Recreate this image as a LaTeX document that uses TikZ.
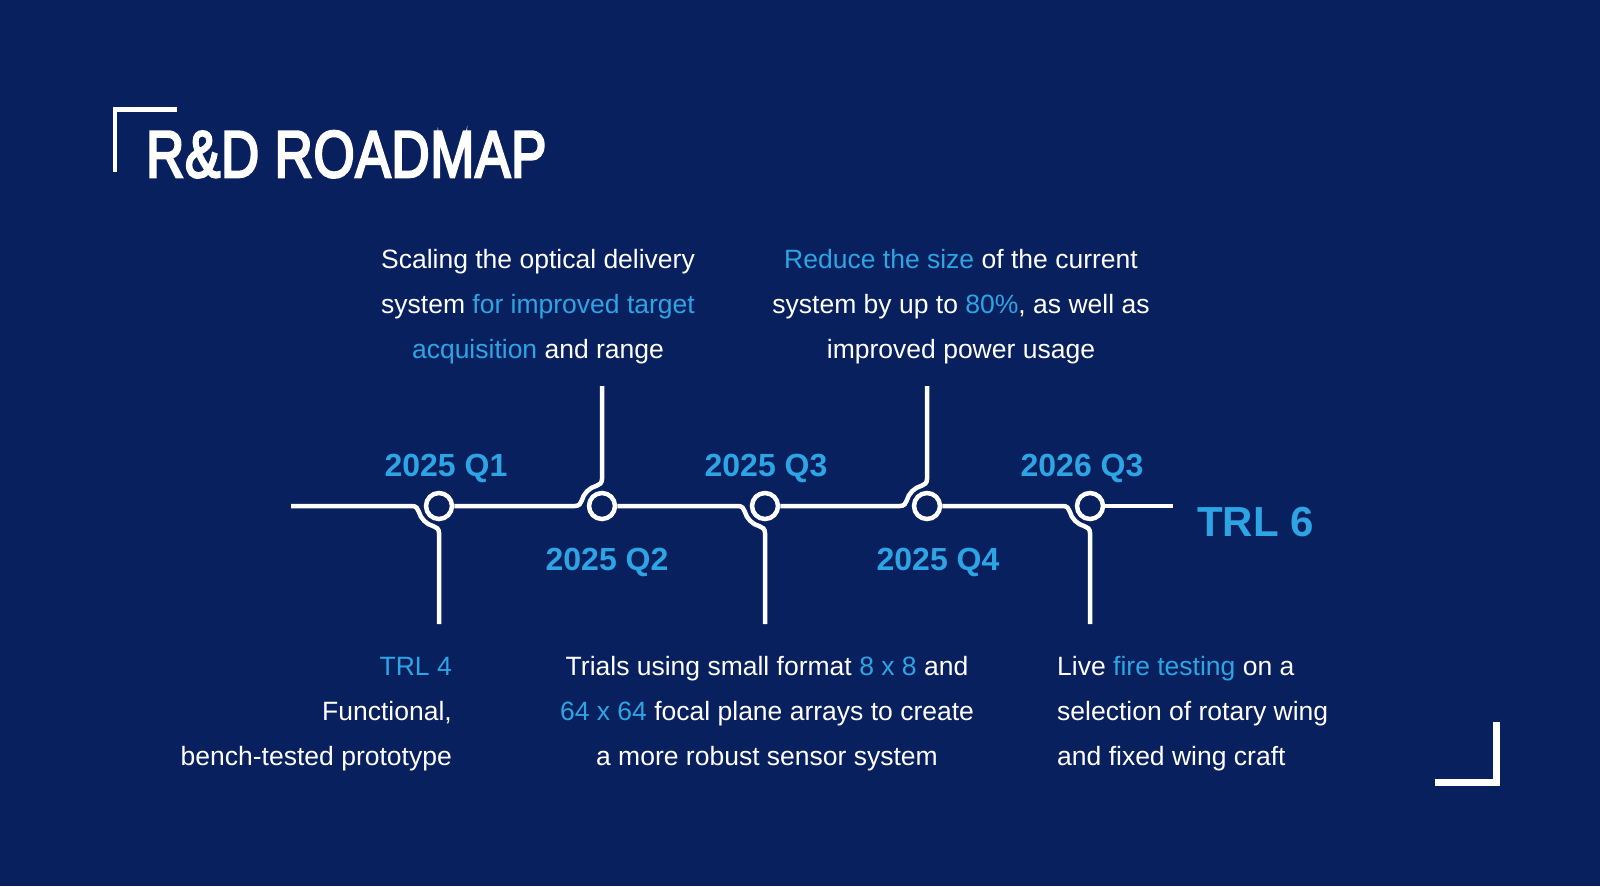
\documentclass[tikz,border=0pt]{standalone}
\usepackage{fontspec}
\setmainfont{Liberation Sans}
\newfontfamily\titlefont{Liberation Sans}[FakeBold=4,LetterSpace=1.5]
\usepackage{graphicx}
\usetikzlibrary{calc}
\definecolor{bg}{HTML}{09205F}
\definecolor{hl}{HTML}{2DA4E4}
\begin{document}
\begin{tikzpicture}[x=1pt,y=-1pt,
  tl/.style={draw=white,line width=4.5pt},
  dot/.style={circle,draw=white,line width=4.5pt,minimum size=26pt,inner sep=0pt},
  qlab/.style={text=hl,font=\fontsize{32}{38}\selectfont\bfseries,anchor=base,inner sep=0pt},
  body/.style={text=white,font=\fontsize{26.5}{32}\selectfont,anchor=base,inner sep=0pt},
  bracket/.style={draw=white,line cap=butt,line join=miter}]
\path[use as bounding box,fill=bg] (0,0) rectangle (1600,886);

% title and corner brackets
\node[anchor=base west,inner sep=0pt,text=white] (title) at (146,177)
  {\scalebox{0.80}[1]{\fontsize{66}{70}\titlefont R\&D ROADMAP}};
\coordinate (k1) at (115,172);
\coordinate (k2) at (115,109.5);
\coordinate (k3) at (177,109.5);
\draw[bracket,line width=4.7pt] (k1) -- (k2) -- (k3);
\coordinate (m1) at (1496,722);
\coordinate (m2) at (1496,782.5);
\coordinate (m3) at (1435,782.5);
\draw[bracket,line width=7pt] (m1) -- (m2) -- (m3);

% timeline nodes
\node[dot] (c1) at (439,506) {};
\node[dot] (c2) at (602,506) {};
\node[dot] (c3) at (765,506) {};
\node[dot] (c4) at (927,506) {};
\node[dot] (c5) at (1090,506) {};
\coordinate (s) at (291,506);
\coordinate (e) at (1173,506);
\coordinate (b1) at (439,624);
\coordinate (t2) at (602,386);
\coordinate (b3) at (765,624);
\coordinate (t4) at (927,386);
\coordinate (b5) at (1090,624);

\draw[tl] (s) -- ($(c1)+(-27,0)$) .. controls ($(c1)+(-23,0)$) and ($(c1)+(-21.1,2.5)$) .. ($(c1)+(-20.3,5.4)$) arc[start angle=165,end angle=105,radius=21] .. controls ($(c1)+(-2.5,21.1)$) and ($(c1)+(0,23)$) .. ($(c1)+(0,27)$) -- (b1);
\draw[tl] (c1.east) -- ($(c2)+(-27,0)$) .. controls ($(c2)+(-23,0)$) and ($(c2)+(-21.1,-2.5)$) .. ($(c2)+(-20.3,-5.4)$) arc[start angle=195,end angle=255,radius=21] .. controls ($(c2)+(-2.5,-21.1)$) and ($(c2)+(0,-23)$) .. ($(c2)+(0,-27)$) -- (t2);
\draw[tl] (c2.east) -- ($(c3)+(-27,0)$) .. controls ($(c3)+(-23,0)$) and ($(c3)+(-21.1,2.5)$) .. ($(c3)+(-20.3,5.4)$) arc[start angle=165,end angle=105,radius=21] .. controls ($(c3)+(-2.5,21.1)$) and ($(c3)+(0,23)$) .. ($(c3)+(0,27)$) -- (b3);
\draw[tl] (c3.east) -- ($(c4)+(-27,0)$) .. controls ($(c4)+(-23,0)$) and ($(c4)+(-21.1,-2.5)$) .. ($(c4)+(-20.3,-5.4)$) arc[start angle=195,end angle=255,radius=21] .. controls ($(c4)+(-2.5,-21.1)$) and ($(c4)+(0,-23)$) .. ($(c4)+(0,-27)$) -- (t4);
\draw[tl] (c4.east) -- ($(c5)+(-27,0)$) .. controls ($(c5)+(-23,0)$) and ($(c5)+(-21.1,2.5)$) .. ($(c5)+(-20.3,5.4)$) arc[start angle=165,end angle=105,radius=21] .. controls ($(c5)+(-2.5,21.1)$) and ($(c5)+(0,23)$) .. ($(c5)+(0,27)$) -- (b5);
\draw[tl] (c5.east) -- (e);

% date labels
\node[qlab] (l1) at (446,476) {2025 Q1};
\node[qlab] (l2) at (607,570) {2025 Q2};
\node[qlab] (l3) at (766,476) {2025 Q3};
\node[qlab] (l4) at (938,570) {2025 Q4};
\node[qlab] (l5) at (1082,476) {2026 Q3};
\node[text=hl,font=\fontsize{42}{48}\selectfont\bfseries,anchor=base west,inner sep=0pt] (trl6) at (1197,536) {TRL 6};

% descriptions
\node[body] (q2a) at (538,268) {Scaling the optical delivery};
\node[body] (q2b) at (538,313) {system \textcolor{hl}{for improved target}};
\node[body] (q2c) at (538,358) {\textcolor{hl}{acquisition} and range};
\node[body] (q4a) at (961,268) {\textcolor{hl}{Reduce the size} of the current};
\node[body] (q4b) at (961,313) {system by up to \textcolor{hl}{80\%}, as well as};
\node[body] (q4c) at (961,358) {improved power usage};
\node[body,anchor=base east] (q1a) at (452,675) {\textcolor{hl}{TRL 4}};
\node[body,anchor=base east] (q1b) at (452,720) {Functional,};
\node[body,anchor=base east] (q1c) at (452,765) {bench-tested prototype};
\node[body] (q3a) at (767,675) {Trials using small format \textcolor{hl}{8 x 8} and};
\node[body] (q3b) at (767,720) {\textcolor{hl}{64 x 64} focal plane arrays to create};
\node[body] (q3c) at (767,765) {a more robust sensor system};
\node[body,anchor=base west] (q5a) at (1057,675) {Live \textcolor{hl}{fire testing} on a};
\node[body,anchor=base west] (q5b) at (1057,720) {selection of rotary wing};
\node[body,anchor=base west] (q5c) at (1057,765) {and fixed wing craft};
\end{tikzpicture}
\end{document}
